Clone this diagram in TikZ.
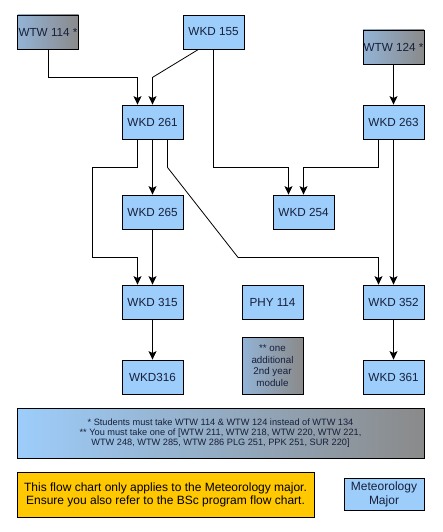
\documentclass[tikz,border=0pt]{standalone}
\usepackage{fontspec}
\setmainfont{Liberation Sans}
\usepackage{tikz}
\usetikzlibrary{arrows.meta,positioning}
\definecolor{ink}{HTML}{17203A}
\definecolor{sky}{HTML}{9DCDFB}
\definecolor{skyhi}{HTML}{B9DBFA}
\definecolor{steel}{HTML}{93B3D6}
\definecolor{slate}{HTML}{8A8A8A}
\definecolor{amber}{HTML}{FFC800}
\tikzset{
  course/.style={draw=black, fill=sky, line width=0.8pt, minimum width=61pt, minimum height=34pt,
    inner sep=0pt, text=ink, font=\fontsize{11.7}{13}\selectfont},
  pre/.style={course, left color=steel, middle color=skyhi, right color=slate},
  note/.style={draw=black, line width=0.8pt, left color=sky, right color=slate, minimum width=407pt,
    minimum height=50pt, inner sep=0pt, align=center, text=ink, font=\fontsize{9.2}{9.8}\selectfont},
  warn/.style={draw=black, fill=amber, line width=0.8pt, minimum width=297pt, minimum height=45pt,
    inner sep=0pt, align=center, text=black, font=\fontsize{12}{13}\selectfont},
  flow/.style={draw=black, line width=0.8pt, -{Stealth[length=8.5pt,width=8pt,inset=2pt]}},
}

\begin{document}
\begin{tikzpicture}[x=1pt,y=-1pt]
\useasboundingbox (0,0) rectangle (442,532);

% prerequisite modules
\node[pre] (wtw114) at (48,32) {WTW 114 *};
\node[pre] (wtw124) at (393.5,47) {WTW 124 *};

% major modules
\foreach \n/\x/\y/\t in {wkd155/213.5/32/WKD 155, wkd261/152.5/122/WKD 261, wkd263/393.5/122/WKD 263,
  wkd265/152.5/212/WKD 265, wkd254/303.5/212/WKD 254, wkd315/152.5/302/WKD 315,
  phy114/272.5/302/PHY 114, wkd352/393.5/302/WKD 352, wkd316/152.5/377/WKD316,
  wkd361/393.5/377/WKD 361}{
  \node[course] (\n) at (\x,\y) {\t};
}
\node[pre, minimum height=57pt, align=center, font=\fontsize{9.8}{11.5}\selectfont] (extra) at (272.5,365.5)
  {** one\\additional\\2nd year\\module};

% footnotes and legend
\node[note] (notes) at (220.5,433) {* Students must take WTW 114 \& WTW 124 instead of WTW 134\\
  ** You must take one of [WTW 211, WTW 218, WTW 220, WTW 221,\\
  WTW 248, WTW 285, WTW 286 PLG 251, PPK 251, SUR 220]};
\node[warn] (scope) at (165.5,494.5) {This flow chart only applies to the Meteorology major.\\
  Ensure you also refer to the BSc program flow chart.};
\node[course, minimum width=80pt, minimum height=32pt, align=center, font=\fontsize{12}{14}\selectfont]
  (legend) at (384,494) {Meteorology\\Major};

% prerequisite arrows
\draw[flow] (wtw114.south) -- ++(0,28) -| ([xshift=-15pt]wkd261.north);
\draw[flow] ([xshift=-15pt]wkd155.south) -- ++(-46,28) -- (wkd261.north);
\draw[flow] (wkd155.south) -- ++(0,118) -| ([xshift=-15pt]wkd254.north);
\draw[flow] ([xshift=-15pt]wkd263.south) -- ++(0,28) -| (wkd254.north);
\draw[flow] (wtw124) -- (wkd263);
\draw[flow] ([xshift=-15pt]wkd261.south) -- ++(0,28) -- ++(-45,0) -- ++(0,90) -| ([xshift=-15pt]wkd315.north);
\draw[flow] ([xshift=15pt]wkd261.south) -- ++(0,28) -- ++(70.5,90) -| ([xshift=-15pt]wkd352.north);
\draw[flow] (wkd263) -- (wkd352);
\foreach \a/\b in {wkd261/wkd265, wkd265/wkd315, wkd315/wkd316, wkd352/wkd361}{
  \draw[flow] (\a) -- (\b);
}
\end{tikzpicture}
\end{document}
